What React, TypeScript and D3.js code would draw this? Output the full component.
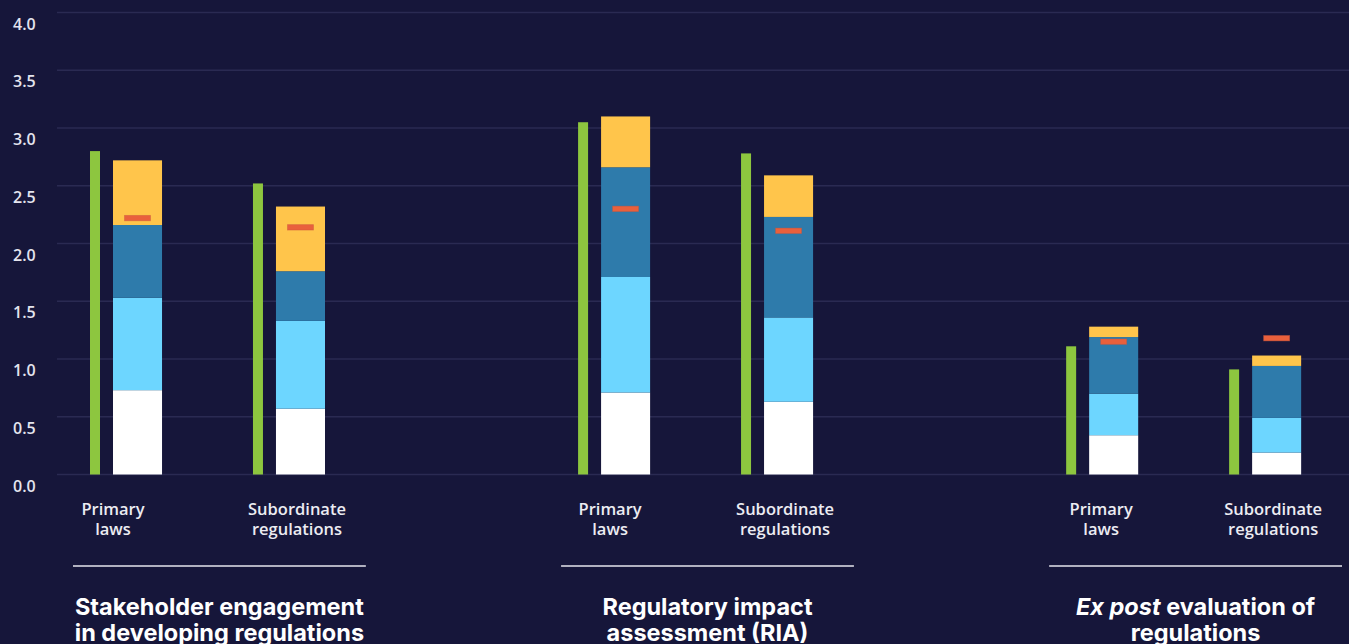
import React from "react";
import * as d3 from "d3";

const groupKeys = ["stakeholder", "ria", "expost"];
const groupTitleLines = [
  [[{ t: "Stakeholder engagement", i: false }], [{ t: "in developing regulations", i: false }]],
  [[{ t: "Regulatory impact", i: false }], [{ t: "assessment (RIA)", i: false }]],
  [[{ t: "Ex post", i: true }, { t: " evaluation of", i: false }], [{ t: "regulations", i: false }]],
];
const subKeys = ["primary", "subordinate"];
const subLabelLines = [["Primary", "laws"], ["Subordinate", "regulations"]];

// values per bar, order: group1 primary, group1 subordinate, group2 primary, ...
const totalPrev = [2.8, 2.52, 3.05, 2.78, 1.11, 0.91];
const methodology = [0.73, 0.57, 0.71, 0.63, 0.34, 0.19];
const systematicAdoption = [0.8, 0.76, 1.0, 0.73, 0.36, 0.3];
const transparency = [0.63, 0.43, 0.95, 0.87, 0.49, 0.45];
const oversight = [0.56, 0.56, 0.44, 0.36, 0.09, 0.09];
const oecdAverage = [2.22, 2.14, 2.3, 2.11, 1.15, 1.18];
const yTicks = [0, 0.5, 1, 1.5, 2, 2.5, 3, 3.5, 4];

const W = 1349;
const H = 644;
const BG = "#16163a";
const seriesKeys = ["methodology", "systematicAdoption", "transparency", "oversight"];
const seriesColors = ["#ffffff", "#6dd6ff", "#2e7bab", "#ffc54b"];

export default function App() {
  const y = d3.scaleLinear().domain([0, 4]).range([474.5, 12.5]);
  const xGroup = d3.scaleBand().domain(groupKeys).range([73, 1342]).paddingInner(0.4).paddingOuter(0);
  const xSub = d3.scaleBand().domain(subKeys).range([17, 252]).paddingInner(0.558).paddingOuter(0);
  const greenW = 10;
  const stackOffset = 23;
  const primaryShift = [-13, -4, -1];

  const rows = totalPrev.map((_, i) => ({
    group: groupKeys[Math.floor(i / 2)],
    sub: subKeys[i % 2],
    total: totalPrev[i],
    methodology: methodology[i],
    systematicAdoption: systematicAdoption[i],
    transparency: transparency[i],
    oversight: oversight[i],
    avg: oecdAverage[i],
  }));
  const stacked = d3.stack<any>().keys(seriesKeys)(rows);

  const subStart = (r: any) => (xGroup(r.group) as number) + (xSub(r.sub) as number);
  const bw = xSub.bandwidth();
  const stackW = bw - stackOffset;

  return (
    <svg width={W} height={H} style={{ position: "absolute", left: 0, top: 0, display: "block" }}>
      <rect x={0} y={0} width={W} height={H} fill={BG} />
      {yTicks.map((t) => (
        <g key={t}>
          <line x1={57} x2={W} y1={y(t)} y2={y(t)} stroke="#2a2a52" strokeWidth={1.4} />
          <text x={13} y={y(t) + 17} fill="#e4e4ee" fontFamily="'Open Sans', sans-serif" fontWeight={600} fontSize={16}>
            {t.toFixed(1)}
          </text>
        </g>
      ))}
      {rows.map((r, i) => {
        const x0 = subStart(r);
        const gi = Math.floor(i / 2);
        return (
          <g key={i}>
            <rect x={x0} y={y(r.total)} width={greenW} height={y(0) - y(r.total)} fill="#8dc63f" />
            {stacked.map((s, k) => (
              <rect
                key={k}
                x={x0 + stackOffset}
                y={y(s[i][1])}
                width={stackW}
                height={y(s[i][0]) - y(s[i][1])}
                fill={seriesColors[k]}
              />
            ))}
            <rect
              x={x0 + stackOffset + stackW / 2 - 13}
              y={y(r.avg) - 2.7}
              width={26}
              height={5.4}
              fill="#e9603c"
              stroke="#c8553f"
              strokeOpacity={0.5}
              strokeWidth={0.8}
            />
            {subLabelLines[i % 2].map((ln, j) => (
              <text
                key={j}
                x={x0 + bw / 2 + (i % 2 === 0 ? primaryShift[gi] : 8)}
                y={515 + j * 20}
                textAnchor="middle"
                fill="#ececf2"
                fontFamily="'Open Sans', sans-serif"
                fontWeight={600}
                fontSize={16.5}
              >
                {ln}
              </text>
            ))}
          </g>
        );
      })}
      {groupKeys.map((g, gi) => {
        const gx = xGroup(g) as number;
        const cx = gx + xGroup.bandwidth() / 2;
        return (
          <g key={g}>
            <line x1={gx} x2={gx + xGroup.bandwidth()} y1={566} y2={566} stroke="#e6e6ee" strokeWidth={1.4} />
            {groupTitleLines[gi].map((parts, li) => (
              <text
                key={li}
                x={cx}
                y={615 + li * 26}
                textAnchor="middle"
                fill="#ffffff"
                fontFamily="Inter, 'Open Sans', sans-serif"
                fontWeight={700}
                fontSize={23.5}
              >
                {parts.map((p, pi) => (
                  <tspan key={pi} fontStyle={p.i ? "italic" : "normal"}>
                    {p.t}
                  </tspan>
                ))}
              </text>
            ))}
          </g>
        );
      })}
    </svg>
  );
}
